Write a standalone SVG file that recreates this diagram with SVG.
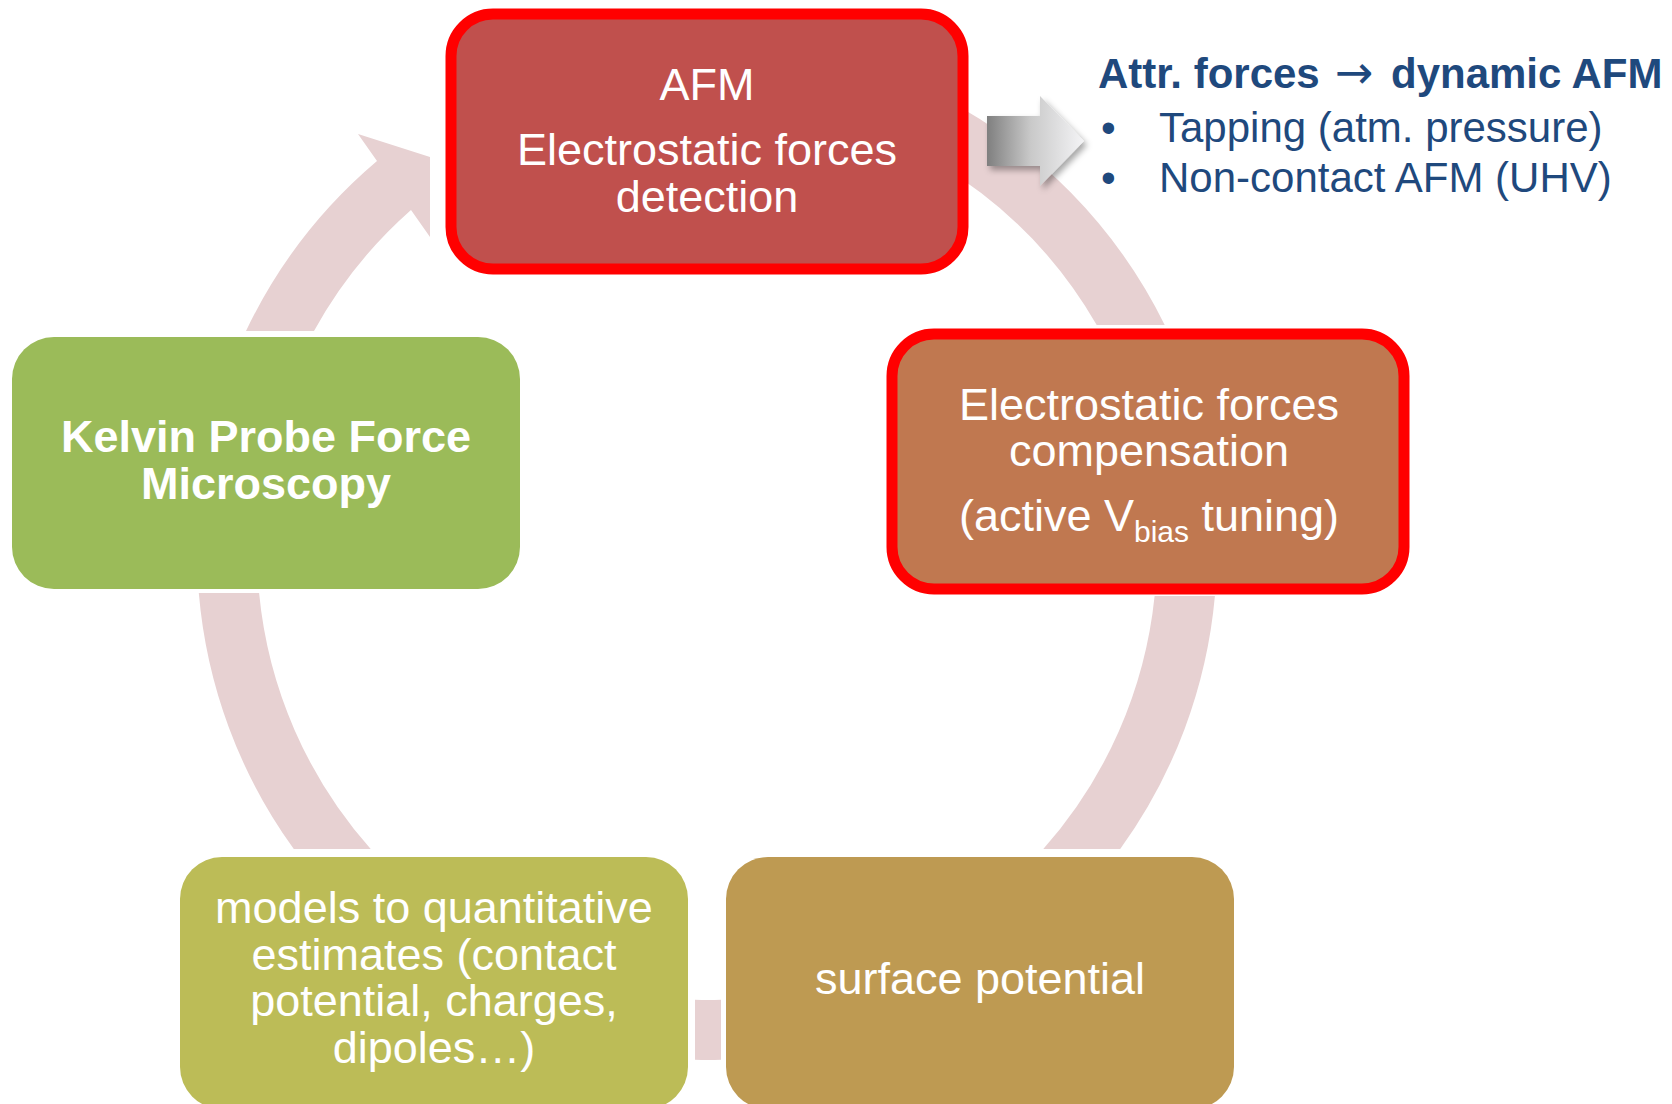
<svg xmlns="http://www.w3.org/2000/svg" width="1672" height="1104" viewBox="0 0 1672 1104">
<style>
.arc{fill:#E7D1D2}
.box{stroke:none}
.hl{stroke:#FF0000;stroke-width:11}
.t{font-family:"Liberation Sans",Arial,sans-serif;font-size:45px;fill:#FFFFFF;text-anchor:middle}
.b{font-weight:bold}
.note{font-family:"Liberation Sans",Arial,sans-serif;font-size:42px;fill:#1F497D}
</style>
<defs>
<linearGradient id="gArrow" x1="0" y1="0" x2="1" y2="0">
<stop offset="0" stop-color="#7F7F7F"/>
<stop offset="0.45" stop-color="#C9C9C9"/>
<stop offset="1" stop-color="#F4F4F6"/>
</linearGradient>
<filter id="sh" x="-20%" y="-20%" width="150%" height="150%">
<feDropShadow dx="3" dy="4" stdDeviation="3" flood-color="#000" flood-opacity="0.35"/>
</filter>
</defs>
<rect width="1672" height="1104" fill="#FFFFFF"/>
<g id="connectors">
<path class="arc" d="M246,331 A510,510 0 0 1 377,161 L358,134 L430,157 L430,237 L411,210 A450,450 0 0 0 314,331 Z"/>
<path class="arc" d="M940,96.3 A510,510 0 0 1 1164.7,325 L1096.7,325 A450,450 0 0 0 940,165 Z"/>
<path class="arc" d="M1214.9,596 A510,510 0 0 1 1120.2,849 L1043.3,849 A450,450 0 0 0 1154.6,596 Z"/>
<path class="arc" d="M721,1059.8 A510,510 0 0 1 695,1059.8 L695,999.8 A450,450 0 0 0 721,999.8 Z"/>
<path class="arc" d="M293.8,849 A510,510 0 0 1 198.8,593 L259.1,593 A450,450 0 0 0 370.7,849 Z"/>
<path id="side-arrow" d="M987,116 L1040,116 L1040,96 L1084,141 L1040,186 L1040,166 L987,166 Z" fill="url(#gArrow)" filter="url(#sh)"/>
</g>
<g id="node-afm">
<rect class="box hl" x="451" y="14" width="512" height="255" rx="42" fill="#C0504D"/>
<text class="t" x="707" y="100">AFM</text>
<text class="t" x="707" y="165">Electrostatic forces</text>
<text class="t" x="707" y="212">detection</text>
</g>
<g id="node-compensation">
<rect class="box hl" x="892" y="334" width="512" height="255" rx="42" fill="#C07850"/>
<text class="t" x="1149" y="420">Electrostatic forces</text>
<text class="t" x="1149" y="466">compensation</text>
<text class="t" x="1149" y="531">(active V<tspan font-size="30" dy="11">bias</tspan><tspan dy="-11"> tuning)</tspan></text>
</g>
<g id="node-surface">
<rect class="box" x="726" y="857" width="508" height="252" rx="42" fill="#BE9A52"/>
<text class="t" x="980" y="994">surface potential</text>
</g>
<g id="node-models">
<rect class="box" x="180" y="857" width="508" height="252" rx="42" fill="#BCBC57"/>
<text class="t" x="434" y="923">models to quantitative</text>
<text class="t" x="434" y="970">estimates (contact</text>
<text class="t" x="434" y="1016">potential, charges,</text>
<text class="t" x="434" y="1063">dipoles…)</text>
</g>
<g id="node-kpfm">
<rect class="box" x="12" y="337" width="508" height="252" rx="42" fill="#9BBB59"/>
<text class="t b" x="266" y="452">Kelvin Probe Force</text>
<text class="t b" x="266" y="499">Microscopy</text>
</g>
<g id="note">
<text class="note" x="1098" y="88" font-weight="bold">Attr. forces <tspan x="1335" font-family="'DejaVu Sans',sans-serif" font-weight="normal" font-size="46">→</tspan><tspan x="1391">dynamic AFM</tspan></text>
<text class="note" x="1101" y="142">•</text>
<text class="note" x="1159" y="142">Tapping (atm. pressure)</text>
<text class="note" x="1101" y="192">•</text>
<text class="note" x="1159" y="192">Non-contact AFM (UHV)</text>
</g>
</svg>
